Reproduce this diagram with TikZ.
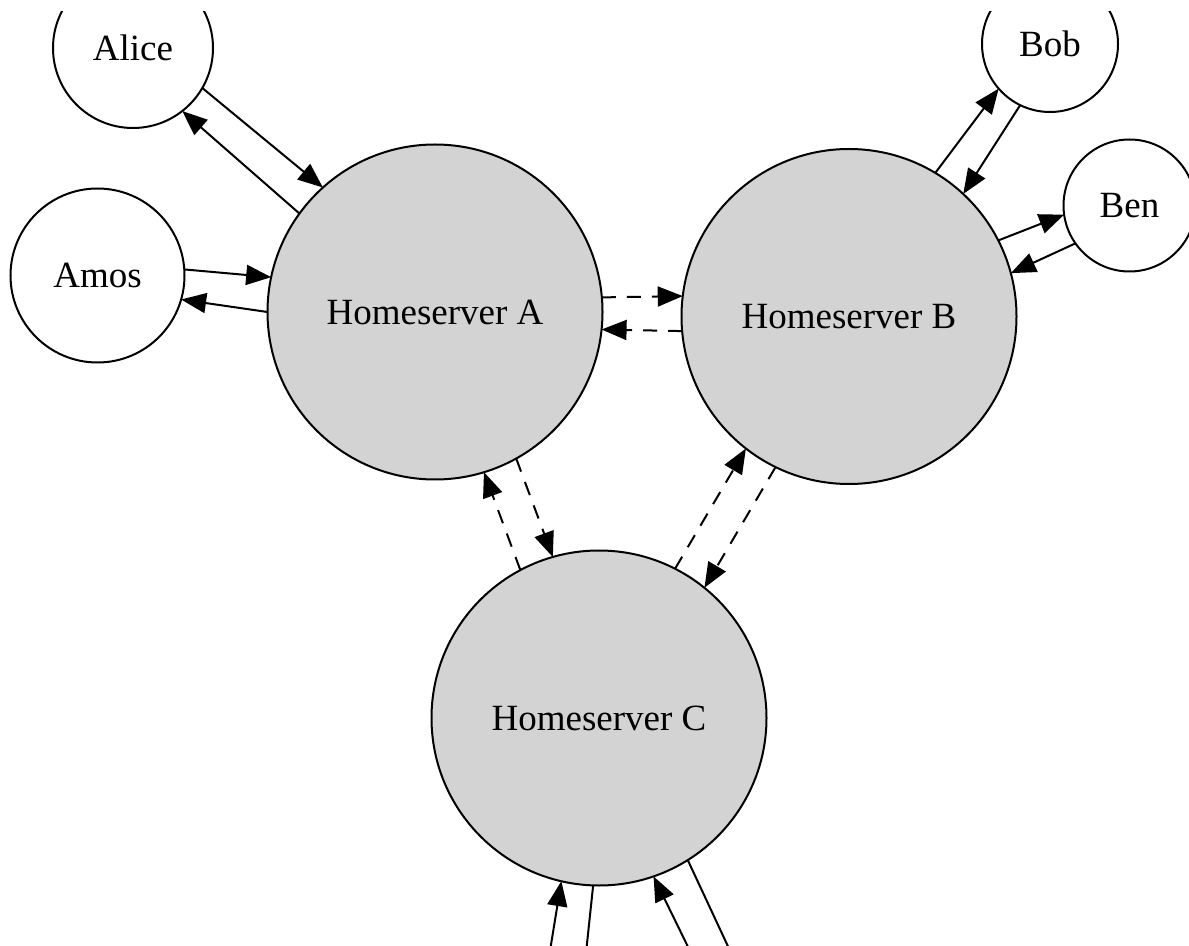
\documentclass[tikz,border=0pt]{standalone}
\usepackage{fontspec}
\setmainfont{Liberation Serif}
\usetikzlibrary{arrows.meta}
\usetikzlibrary{calc}
\usepackage{xcolor}
\definecolor{hsgray}{RGB}{211,211,211}

\begin{document}
\begin{tikzpicture}[x=0.5pt,y=-0.5pt,
  every node/.style={font=\fontsize{18.5}{22}\selectfont},
  user/.style={circle, draw, line width=1pt, inner sep=0pt, outer sep=0pt},
  hs/.style={user, fill=hsgray, minimum size=167.5pt},
  link/.style={line width=1pt, -{Triangle[length=12.5pt,width=10pt]}},
  fed/.style={link, dash pattern=on 7pt off 5.5pt}]
\useasboundingbox (0,0) rectangle (1189,946);
\clip (0,12) rectangle (1189,946);
\node[hs] (hsA) at (435,312) {Homeserver A};
\node[hs] (hsB) at (849,316.5) {Homeserver B};
\node[hs] (hsC) at (599,718) {Homeserver C};
\node[user, minimum size=80pt] (alice) at (133,48) {Alice};
\node[user, minimum size=87pt] (amos) at (97.5,275.5) {Amos};
\node[user, minimum size=68pt] (bob) at (1050,44) {Bob};
\node[user, minimum size=66pt] (ben) at (1129.5,205.5) {Ben};
\coordinate (ext1) at (542,1000);
\coordinate (ext2) at (581,1000);
\coordinate (ext3) at (714,1000);
\coordinate (ext4) at (753,1000);
\draw[link] (alice.-30.6) -- (hsA.132.8);
\draw[link] (hsA.144.3) -- (alice.-52);
\draw[link] (amos.4.2) -- (hsA.168);
\draw[link] (hsA.180) -- (amos.-16.2);
\draw[link] (hsB.59.8) -- (bob.221.5);
\draw[link] (bob.244.9) -- (hsB.47.5);
\draw[link] (hsB.27.9) -- (ben.188.4);
\draw[link] (ben.215.2) -- (hsB.15.1);
\draw[fed] (hsA.5.1) -- (hsB.173.3);
\draw[fed] (hsB.185) -- (hsA.-6.5);
\draw[fed] (hsC.118.4) -- (hsA.-73.7);
\draw[fed] (hsA.-61.3) -- (hsC.106);
\draw[fed] (hsC.63.9) -- (hsB.232.2);
\draw[fed] (hsB.244) -- (hsC.51.8);
\draw[link] (ext1) -- (hsC.-103.5);
\draw[link] (hsC.-92) -- (ext2);
\draw[link] (ext3) -- (hsC.-71.2);
\draw[link] (hsC.-58.7) -- (ext4);
\end{tikzpicture}
\end{document}
